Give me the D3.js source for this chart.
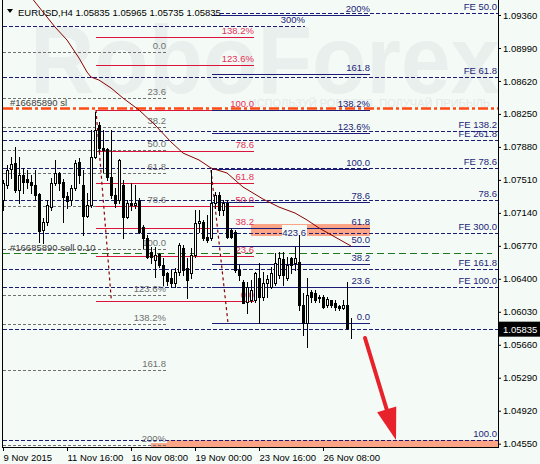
<!DOCTYPE html>
<html><head><meta charset="utf-8">
<script src="https://cdn.jsdelivr.net/npm/d3@7"></script>
<style>
body{margin:0;background:#f4fbf6;}
svg{display:block;}
text{font-family:"Liberation Sans",Arial,sans-serif;}
</style>
</head><body><svg id="c" width="540" height="464"></svg>
<script>
// ---------------- DATA ----------------
const opens=[1.07284,1.07452,1.07632,1.07699,1.07396,1.07565,1.07520,1.07486,1.07452,1.07351,
1.06947,1.07037,1.07205,1.07475,1.07587,1.07486,1.07329,1.07284,1.07419,1.07710,
1.07452,1.07104,1.07228,1.07767,1.08126,1.07867,1.07856,1.07542,1.07340,1.07284,
1.07452,1.07093,1.07250,1.07228,1.07284,1.06981,1.06858,1.06701,1.06611,1.06678,
1.06555,1.06465,1.06409,1.06353,1.06476,1.06745,1.06521,1.06465,1.06667,1.07026,
1.07037,1.06869,1.06858,1.07250,1.07340,1.07172,1.07250,1.06947,1.06925,1.06499,
1.06364,1.06140,1.06162,1.06162,1.06409,1.06196,1.06353,1.06308,1.06353,1.06443,
1.06622,1.06409,1.06633,1.06577,1.06588,1.06106,1.05904,1.06252,1.06241,1.06184,
1.06196,1.06106,1.06162,1.06128,1.06095,1.06072,1.06106,1.05835];
const highs=[1.07508,1.07677,1.07767,1.07879,1.07767,1.07643,1.07621,1.07565,1.07621,1.07363,
1.07082,1.07284,1.07531,1.07733,1.07598,1.07520,1.07374,1.07452,1.07733,1.07755,
1.07621,1.07363,1.08069,1.08271,1.08159,1.08069,1.07867,1.08069,1.07419,1.07744,
1.07508,1.07284,1.07475,1.07452,1.07306,1.07004,1.06891,1.06757,1.06757,1.06689,
1.06633,1.06476,1.06499,1.06521,1.06802,1.06779,1.06633,1.06745,1.07172,1.07172,
1.07060,1.07116,1.07621,1.07374,1.07374,1.07284,1.07284,1.06970,1.06947,1.06555,
1.06386,1.06364,1.06386,1.06476,1.06577,1.06476,1.06443,1.06532,1.06689,1.06701,
1.06701,1.06644,1.06644,1.06757,1.06891,1.06241,1.06409,1.06274,1.06274,1.06218,
1.06218,1.06196,1.06162,1.06162,1.06106,1.06162,1.06364,1.05965];
const lows=[1.07172,1.07419,1.07531,1.07374,1.07250,1.07363,1.07419,1.07363,1.07284,1.06813,
1.06802,1.07004,1.07172,1.07452,1.07396,1.07037,1.07194,1.07228,1.07396,1.07475,
1.06891,1.07093,1.07205,1.07755,1.07823,1.07598,1.07508,1.07306,1.07205,1.07250,
1.06858,1.07082,1.07172,1.07194,1.06914,1.06745,1.06633,1.06577,1.06420,1.06532,
1.06330,1.06330,1.06308,1.06308,1.06443,1.06443,1.06184,1.06409,1.06644,1.06925,
1.06835,1.06813,1.06835,1.07194,1.07116,1.07116,1.06858,1.06858,1.06476,1.06386,
1.06128,1.06016,1.06140,1.06140,1.05904,1.06162,1.06196,1.06297,1.06330,1.06409,
1.06330,1.06386,1.06465,1.06499,1.06050,1.05769,1.05635,1.06140,1.06140,1.06140,
1.06072,1.06083,1.06083,1.06050,1.06050,1.06061,1.05837,1.05735];
const closes=[1.07475,1.07621,1.07688,1.07396,1.07565,1.07486,1.07486,1.07452,1.07340,1.06936,
1.07037,1.07228,1.07475,1.07587,1.07475,1.07318,1.07273,1.07419,1.07699,1.07565,
1.07104,1.07228,1.07767,1.08069,1.07867,1.07845,1.07542,1.07340,1.07250,1.07733,
1.07093,1.07250,1.07228,1.07250,1.06925,1.06858,1.06644,1.06644,1.06667,1.06555,
1.06443,1.06375,1.06353,1.06476,1.06779,1.06499,1.06386,1.06667,1.07026,1.07048,
1.06858,1.06835,1.07250,1.07340,1.07172,1.07250,1.06869,1.06869,1.06499,1.06443,
1.06128,1.06308,1.06274,1.06465,1.06196,1.06353,1.06398,1.06465,1.06577,1.06633,
1.06443,1.06555,1.06555,1.06633,1.06106,1.05904,1.06218,1.06196,1.06162,1.06196,
1.06083,1.06173,1.06106,1.06083,1.06072,1.06106,1.05848,1.05835];

const xTickBars=[0,16,32,48,64,80];
const xTickLabels=["9 Nov 2015","11 Nov 16:00","16 Nov 08:00","19 Nov 00:00","23 Nov 16:00","26 Nov 08:00"];
const priceTicks=[1.0936,1.0899,1.0862,1.0825,1.0788,1.0751,1.0714,1.0677,1.0640,1.0603,1.0566,1.0529,1.0492,1.0455];
const lastPrice=1.05835;
const header="EURUSD,H4 1.05835 1.05965 1.05735 1.05835";

// moving average (bar index, value)
const maBars=[6,7,10,13,16,19,21,22,24,27,30,34,38,42,45,49,52,56,60,65,69,73,76,79,83,87];
const maValues=[1.09620,1.09562,1.09393,1.09225,1.09079,1.08877,1.08720,1.08664,1.08630,1.08541,1.08428,1.08294,1.08126,1.07935,1.07811,1.07733,1.07643,1.07587,1.07430,1.07295,1.07205,1.07138,1.07060,1.06970,1.06869,1.06768];

// Fibonacci objects (anchor prices for level 0 and level 100, bar span)
const grayFibLevels=[0,23.6,38.2,50,61.8,78.6,100,123.6,138.2,161.8,200];
const grayFibLabels=["0.0","23.6","38.2","50.0","61.8","78.6","100.0","123.6%","138.2%","161.8","200%"];
const grayFibAnchors=[1.08945,1.06740]; const grayFibBars=[0,40.75];
const redFibLevels=[0,23.6,38.2,50,61.8,78.6,100,123.6,138.2];
const redFibLabels=["0.0","23.6","38.2","50.0","61.8","78.6","100.0","123.6%","138.2%"];
const redFibAnchors=[1.06151,1.08294]; const redFibBars=[23.25,62.75];
const navyFibLevels=[0,23.6,38.2,50,61.8,78.6,100,123.6,138.2,161.8,200];
const navyFibLabels=["0.0","23.6","38.2","50.0","61.8","78.6","100.0","123.6%","138.2%","161.8","200%"];
const navyFibAnchors=[1.05904,1.07632]; const navyFibBars=[52.25,91.75];

// fibo expansion dashed lines
const fePrices=[1.09382,1.09236,1.08664,1.08058,1.07957,1.07643,1.07284,1.06914,1.06510,1.06308,1.05835,1.04591];
const feLabels=["FE 50.0","300%","FE 61.8","FE 138.2","FE 261.8","FE 78.6","78.6","FE 300.0","FE 161.8","FE 100.0","","100.0"];
const feStartBars=[54.25,0,0,0,0,0,0,0,0,0,0,0];
const feEndBars=[123.75,75.5,123.75,123.75,123.75,123.75,123.75,123.75,123.75,123.75,123.75,123.75];

// orders
const slPrice=1.08311, slLabel="#16685890 sl";
const sellPrice=1.06689, sellLabel="#16685890 sell 0.10", sellEndBar=122.25;

// anchor (dotted) lines: [bar1, price1, bar2, price2]
const anchorLines=[[23.25,1.08294,27.1,1.06151],[52.0,1.07621,56.25,1.05904]];
// highlighted zones: [bar1, bar2, priceTop, priceBottom]
const zones=[[62,91.75,1.07015,1.06880],[41,123.75,1.04591,1.04512],[37,41,1.04557,1.04512]];
const extraLabel={text:"423.6",bar:75.75,price:1.06914};
const arrowFrom=[90.5,1.05736], arrowTo=[98.25,1.04591];

// ---------------- DRAW ----------------
const svg=d3.select('#c');
const left=3,right=498,bottom=447;
const X=d3.scaleLinear().domain([0,123.75]).range([left,right]);
const Y=d3.scaleLinear().domain([1.0455,1.0936]).range([443.7,15]);
const cy=p=>Math.round(Y(p))+0.5;
const FS=9.5;
const NAVY="#1c1c78", GRAY="#707070", RED="#dc143c", REDT="#e6305a";

svg.append('rect').attr('width',540).attr('height',464).attr('fill','#f4fbf6');

// watermark
svg.append('text').attr('x',30).attr('y',93).attr('font-size',96).attr('font-weight','bold')
  .attr('textLength',470).attr('lengthAdjust','spacingAndGlyphs')
  .attr('fill','#e8efec').text('RoboForex');
svg.append('text').attr('x',490).attr('y',107).attr('text-anchor','end').attr('font-size',11)
  .attr('fill','#e3eae8').text('ИСПОЛЬЗУЙ РОБОТОВ, ПОЛУЧАЙ ПРИБЫЛЬ');

svg.append('clipPath').attr('id','clip').append('rect').attr('x',left).attr('y',0).attr('width',right-left).attr('height',bottom);
const g=svg.append('g').attr('clip-path','url(#clip)');

// zones
zones.forEach(z=>{
  g.append('rect').attr('x',X(z[0])).attr('width',X(z[1])-X(z[0]))
   .attr('y',Y(z[2])).attr('height',Y(z[3])-Y(z[2])).attr('fill','#fba586');
});

function hline(p,b0,b1,color,dash,w){
  const l=g.append('line').attr('x1',X(b0)).attr('x2',X(b1)).attr('y1',cy(p)).attr('y2',cy(p))
   .attr('stroke',color).attr('stroke-width',w||1);
  if(dash) l.attr('stroke-dasharray',dash);
  return l;
}
function label(txt,xx,p,color,anchor){
  g.append('text').attr('x',xx).attr('y',Math.round(Y(p))-3).attr('text-anchor',anchor||'end')
   .attr('font-size',FS).attr('fill',color).text(txt);
}

// FE dashed lines
fePrices.forEach((p,i)=>{
  hline(p,feStartBars[i],feEndBars[i],NAVY,'4,2');
  if(feLabels[i]) label(feLabels[i],Math.min(X(feEndBars[i]),497),p,NAVY);
});

// fib objects
function fib(levels,labels,anch,bars,color,tcolor,dash){
  levels.forEach((lv,i)=>{
    const p=anch[0]+(anch[1]-anch[0])*lv/100;
    hline(p,bars[0],bars[1],color,dash);
    label(labels[i],X(bars[1]),p,tcolor);
  });
}
fib(grayFibLevels,grayFibLabels,grayFibAnchors,grayFibBars,GRAY,GRAY,'3,2');
fib(redFibLevels,redFibLabels,redFibAnchors,redFibBars,RED,REDT,null);
fib(navyFibLevels,navyFibLabels,navyFibAnchors,navyFibBars,NAVY,NAVY,null);

// extra label with background
g.append('rect').attr('x',X(extraLabel.bar)-24).attr('y',Y(extraLabel.price)-8).attr('width',25).attr('height',11).attr('fill','#f4fbf6');
g.append('text').attr('x',X(extraLabel.bar)).attr('y',Y(extraLabel.price)+3).attr('text-anchor','end')
  .attr('font-size',FS).attr('fill',NAVY).text(extraLabel.text);

// orders
hline(slPrice,0,123.75,'#ff4a12','10,3,3,3',2.5);
hline(sellPrice,0,sellEndBar,'#1f7a1f','7,4',1);
g.append('text').attr('x',10).attr('y',Math.round(Y(slPrice))-2).attr('font-size',FS).attr('fill','#404040').text(slLabel);
g.append('text').attr('x',10).attr('y',Math.round(Y(sellPrice))-2).attr('font-size',FS).attr('fill','#404040').text(sellLabel);

// anchor dotted lines
anchorLines.forEach(a=>{
  g.append('line').attr('x1',X(a[0])).attr('y1',Y(a[1])).attr('x2',X(a[2])).attr('y2',Y(a[3]))
   .attr('stroke','#8b0000').attr('stroke-width',1.2).attr('stroke-dasharray','3,3');
});

// candles
const cg=g.append('g');
opens.forEach((o,i)=>{
  const c=closes[i], cx=Math.round(X(i));
  cg.append('line').attr('x1',cx+0.5).attr('x2',cx+0.5).attr('y1',Math.round(Y(highs[i]))).attr('y2',Math.round(Y(lows[i]))+1)
    .attr('stroke','#000').attr('stroke-width',1);
  const t=Math.round(Y(Math.max(o,c))), b=Math.round(Y(Math.min(o,c)));
  cg.append('rect').attr('x',cx-0.5).attr('y',t+0.5).attr('width',2).attr('height',Math.max(b-t,0))
    .attr('fill',c>=o?'#ffffff':'#000000').attr('stroke','#000').attr('stroke-width',1);
});

// moving average
g.append('path').datum(maBars.map((b,i)=>[b,maValues[i]]))
  .attr('d',d3.line().x(d=>X(d[0])).y(d=>Y(d[1])))
  .attr('fill','none').attr('stroke','#8b0000').attr('stroke-width',1);

// arrow
(function(){
  const x0=X(arrowFrom[0]),y0=Y(arrowFrom[1]),x1=X(arrowTo[0]),y1=Y(arrowTo[1]);
  const dx=x1-x0,dy=y1-y0,L=Math.hypot(dx,dy),ux=dx/L,uy=dy/L;
  const hl=32,hw=10;
  const bx=x1-ux*hl,by=y1-uy*hl;
  svg.append('line').attr('x1',x0).attr('y1',y0).attr('x2',bx+ux*4).attr('y2',by+uy*4)
    .attr('stroke','#e8222b').attr('stroke-width',4).attr('stroke-linecap','round');
  svg.append('polygon').attr('points',[[x1,y1],[bx-uy*hw,by+ux*hw],[bx+uy*hw,by-ux*hw]].map(p=>p.join(',')).join(' '))
    .attr('fill','#e8222b');
})();

// frame lines
svg.append('line').attr('x1',2.5).attr('x2',2.5).attr('y1',0).attr('y2',bottom+0.5).attr('stroke','#000');
svg.append('line').attr('x1',right+0.5).attr('x2',right+0.5).attr('y1',0).attr('y2',bottom+0.5).attr('stroke','#000');
svg.append('line').attr('x1',2).attr('x2',right+1).attr('y1',bottom+0.5).attr('y2',bottom+0.5).attr('stroke','#000');

// right axis
const ay=svg.append('g').attr('transform',`translate(${right},0)`)
  .call(d3.axisRight(Y).tickValues(priceTicks).tickFormat(d3.format('.5f')).tickSize(3).tickPadding(2));
ay.select('.domain').remove();
ay.selectAll('text').attr('font-size',FS).attr('font-family','"Liberation Sans",Arial,sans-serif').attr('fill','#000');
ay.selectAll('line').attr('stroke','#000');

// last price box
svg.append('rect').attr('x',right+1).attr('y',Y(lastPrice)-7.5).attr('width',41).attr('height',15).attr('fill','#000');
svg.append('text').attr('x',right+5).attr('y',Y(lastPrice)+3.5).attr('font-size',FS).attr('fill','#fff').text(d3.format('.5f')(lastPrice));

// bottom axis
const ax=svg.append('g').attr('transform',`translate(0,${bottom})`)
  .call(d3.axisBottom(X).tickValues(xTickBars).tickFormat((d,i)=>xTickLabels[i]).tickSize(4).tickPadding(3));
ax.select('.domain').remove();
ax.selectAll('text').attr('font-size',FS).attr('font-family','"Liberation Sans",Arial,sans-serif').attr('fill','#000').attr('text-anchor','start').attr('x',0);
ax.selectAll('line').attr('stroke','#000');

// header
svg.append('polygon').attr('points','7,9 13,9 10,13').attr('fill','#000');
svg.append('text').attr('x',18).attr('y',16).attr('font-size',FS).attr('fill','#000').text(header);
</script>
</body></html>
